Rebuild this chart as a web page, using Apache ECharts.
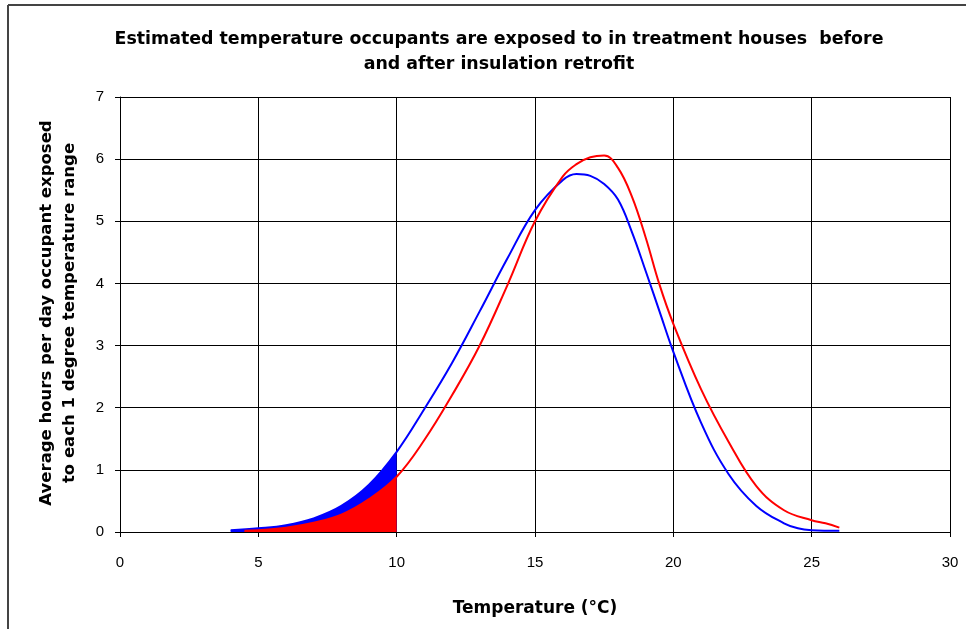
<!DOCTYPE html>
<html>
<head>
<meta charset="utf-8">
<script src="https://cdn.jsdelivr.net/npm/echarts@6/dist/echarts.min.js"></script>
<style>
html,body{margin:0;padding:0;background:#fff;}
#chart{width:966px;height:629px;}
</style>
</head>
<body>
<div id="chart"></div>
<script>
var beforeTemps = [4, 5, 6, 7, 8, 9, 10, 11, 12, 13, 14, 15, 16, 16.5, 17, 17.5, 18, 18.5, 19, 19.5, 20, 21, 22, 23, 24, 24.5, 25, 26];
var beforeHours = [0.03, 0.06, 0.11, 0.22, 0.42, 0.76, 1.29, 1.98, 2.72, 3.55, 4.4, 5.18, 5.66, 5.76, 5.73, 5.6, 5.35, 4.83, 4.2, 3.55, 2.9, 1.76, 0.93, 0.42, 0.14, 0.06, 0.03, 0.02];
var afterTemps = [4.5, 5, 6, 7, 8, 9, 10, 11, 12, 13, 14, 15, 16, 16.5, 17, 17.5, 18, 18.5, 19, 19.5, 20, 21, 22, 23, 24, 25, 25.5, 26];
var afterHours = [0.02, 0.03, 0.07, 0.15, 0.28, 0.53, 0.89, 1.48, 2.2, 3.0, 3.97, 5.0, 5.72, 5.92, 6.03, 6.06, 5.86, 5.4, 4.74, 3.98, 3.35, 2.3, 1.45, 0.74, 0.35, 0.19, 0.14, 0.07];
var shadeLimit = 10;
var xTicks = [0, 5, 10, 15, 20, 25, 30];
var yTicks = [0, 1, 2, 3, 4, 5, 6, 7];

function pairs(xs, ys) { return xs.map(function (x, i) { return [x, ys[i]]; }); }
function upTo(xs, ys, lim) { return pairs(xs, ys).filter(function (p) { return p[0] <= lim; }); }

var chart = echarts.init(document.getElementById('chart'));
var boldFam = '"DejaVu Sans", sans-serif';
var tickFam = '"Liberation Sans", Arial, sans-serif';
chart.setOption({
  animation: false,
  backgroundColor: '#fff',
  title: {
    text: 'Estimated temperature occupants are exposed to in treatment houses  before\nand after insulation retrofit',
    left: 494, top: 22, textAlign: 'center',
    textStyle: { fontFamily: boldFam, fontSize: 17.4, fontWeight: 'bold', color: '#000', lineHeight: 25 }
  },
  graphic: [
    { type: 'line', shape: { x1: 8, y1: 5, x2: 966, y2: 5 }, style: { stroke: '#444', lineWidth: 2 } },
    { type: 'line', shape: { x1: 8, y1: 5, x2: 8, y2: 629 }, style: { stroke: '#444', lineWidth: 2 } },
    { type: 'text', x: 58, y: 313, rotation: Math.PI / 2,
      style: { text: 'Average hours per day occupant exposed\nto each 1 degree temperature range', fontFamily: boldFam,
        fontSize: 16.5, fontWeight: 'bold', fill: '#000', align: 'center', verticalAlign: 'middle', lineHeight: 23 } }
  ],
  grid: { left: 120, right: 16, top: 97, bottom: 97, containLabel: false },
  xAxis: {
    type: 'value', min: xTicks[0], max: xTicks[xTicks.length - 1], interval: 5,
    name: 'Temperature (°C)', nameLocation: 'middle', nameGap: 68,
    nameTextStyle: { fontFamily: boldFam, fontSize: 17, fontWeight: 'bold', color: '#000' },
    axisLine: { show: true, lineStyle: { color: '#000', width: 1 } },
    axisTick: { show: true, length: 5, lineStyle: { color: '#000' } },
    axisLabel: { fontFamily: tickFam, fontSize: 15, color: '#000', margin: 23 },
    splitLine: { show: true, lineStyle: { color: '#000', width: 1 } }
  },
  yAxis: {
    type: 'value', min: yTicks[0], max: yTicks[yTicks.length - 1], interval: 1,
    axisLine: { show: true, lineStyle: { color: '#000', width: 1 } },
    axisTick: { show: true, length: 5, lineStyle: { color: '#000' } },
    axisLabel: { fontFamily: tickFam, fontSize: 15, color: '#000', margin: 16 },
    splitLine: { show: true, lineStyle: { color: '#000', width: 1 } }
  },
  series: [
    { name: 'before shade', type: 'line', smooth: 0.4, symbol: 'none', data: upTo(beforeTemps, beforeHours, shadeLimit),
      lineStyle: { width: 0 }, areaStyle: { color: '#0000ff', opacity: 1 }, z: 2 },
    { name: 'after shade', type: 'line', smooth: 0.4, symbol: 'none', data: upTo(afterTemps, afterHours, shadeLimit),
      lineStyle: { width: 0 }, areaStyle: { color: '#ff0000', opacity: 1 }, z: 3 },
    { name: 'before', type: 'line', smooth: 0.4, symbol: 'none', data: pairs(beforeTemps, beforeHours),
      lineStyle: { color: '#0000ff', width: 2 }, z: 4 },
    { name: 'after', type: 'line', smooth: 0.4, symbol: 'none', data: pairs(afterTemps, afterHours),
      lineStyle: { color: '#ff0000', width: 2 }, z: 5 }
  ]
});
</script>
</body>
</html>
